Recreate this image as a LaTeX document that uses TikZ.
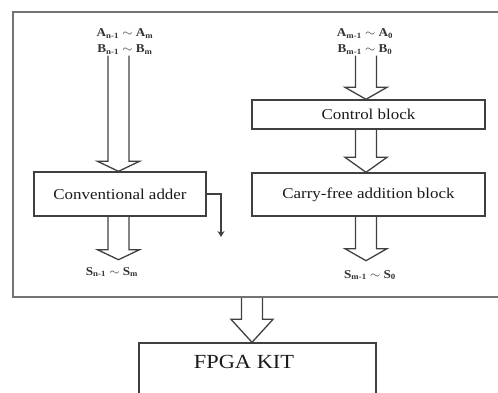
\documentclass[tikz,border=0pt]{standalone}
\usepackage{fontspec}
\setmainfont{Liberation Serif}
\usetikzlibrary{calc,arrows.meta}
\tikzset{
  frameline/.style={draw=black!55, line width=1.5pt},
  boxline/.style={draw=black!75, line width=1.4pt, rectangle, inner sep=0pt},
  arrowline/.style={draw=black!75, line width=1.3pt, line join=miter},
  blocktext/.style={font=\fontsize{15}{17}\selectfont, text=black!90},
  siglabel/.style={font=\fontsize{12}{16}\selectfont\bfseries, text=black!80, inner sep=0pt, align=center},
}
\newcommand{\wide}[2]{\scalebox{#1}[1]{#2}}
% block arrow: #1 start (top), #2 tip, #3 head length
\newcommand{\blockarrow}[3]{%
  \draw[arrowline] let \p1=(#1), \p2=(#2) in
    (\x2-10.5pt,\y1) -- (\x2-10.5pt,\y2+#3) -- (\x2-21pt,\y2+#3) -- (\x2,\y2)
    -- (\x2+21pt,\y2+#3) -- (\x2+10.5pt,\y2+#3) -- (\x2+10.5pt,\y1);}
\begin{document}
\begin{tikzpicture}[x=1pt,y=-1pt]
\useasboundingbox (0,0) rectangle (498,392);
\clip (0,0) rectangle (498,392);
% outer frame
\node[frameline, rectangle, minimum width=494pt, minimum height=285pt, inner sep=0pt] (frame) at (260,154.5) {};
% left branch
\node[siglabel] (inL) at (125,41.5) {\wide{1.1}{A\textsubscript{n-1} $\sim$ A\textsubscript{m}}\\\wide{1.1}{B\textsubscript{n-1} $\sim$ B\textsubscript{m}}};
\node[boxline, minimum width=172pt, minimum height=44pt] (conv) at (120,194) {};
\node[blocktext] (convt) at (conv.center) {\wide{1.13}{Conventional adder}};
\node[siglabel] (outL) at (112,272) {\wide{1.1}{S\textsubscript{n-1} $\sim$ S\textsubscript{m}}};
% right branch
\node[siglabel] (inR) at (365,41.5) {\wide{1.1}{A\textsubscript{m-1} $\sim$ A\textsubscript{0}}\\\wide{1.1}{B\textsubscript{m-1} $\sim$ B\textsubscript{0}}};
\node[boxline, minimum width=233pt, minimum height=29pt] (ctrl) at (368.5,114.5) {};
\node[blocktext] (ctrlt) at (ctrl.center) {\wide{1.13}{Control block}};
\node[boxline, minimum width=233pt, minimum height=43pt] (cfa) at (368.5,194.5) {};
\node[blocktext] (cfat) at (cfa.center) {\wide{1.13}{Carry-free addition block}};
\node[siglabel] (outR) at (370,275) {\wide{1.1}{S\textsubscript{m-1} $\sim$ S\textsubscript{0}}};
% FPGA
\node[boxline, minimum width=237pt, minimum height=70pt] (fpga) at (257.5,378) {};
\node[font=\fontsize{20}{22}\selectfont, text=black!90] (fpgat) at (244,362) {\wide{1.12}{FPGA KIT}};
% coordinates
\coordinate (tipL) at ($(conv.south)+(-1.5,43)$);
\coordinate (tipR) at ($(cfa.south)+(-2.5,44)$);
\coordinate (tipF) at (252,343);
\coordinate (carryend) at (221,237);
% block arrows
\blockarrow{$(inL.south)+(0,1)$}{$(conv.north)+(-1.5,0)$}{10pt}
\blockarrow{conv.south}{tipL}{10pt}
\blockarrow{$(inR.south)+(0,1)$}{$(ctrl.north)+(-2.5,0)$}{12pt}
\blockarrow{ctrl.south}{$(cfa.north)+(-2.5,0)$}{15pt}
\blockarrow{cfa.south}{tipR}{12pt}
\blockarrow{frame.south}{fpga.north -| tipF}{23pt}
% carry arrow
\draw[arrowline, line width=1.1pt, -{Stealth[length=6pt,width=7pt]}] (conv.east) -| (carryend);
\end{tikzpicture}
\end{document}
